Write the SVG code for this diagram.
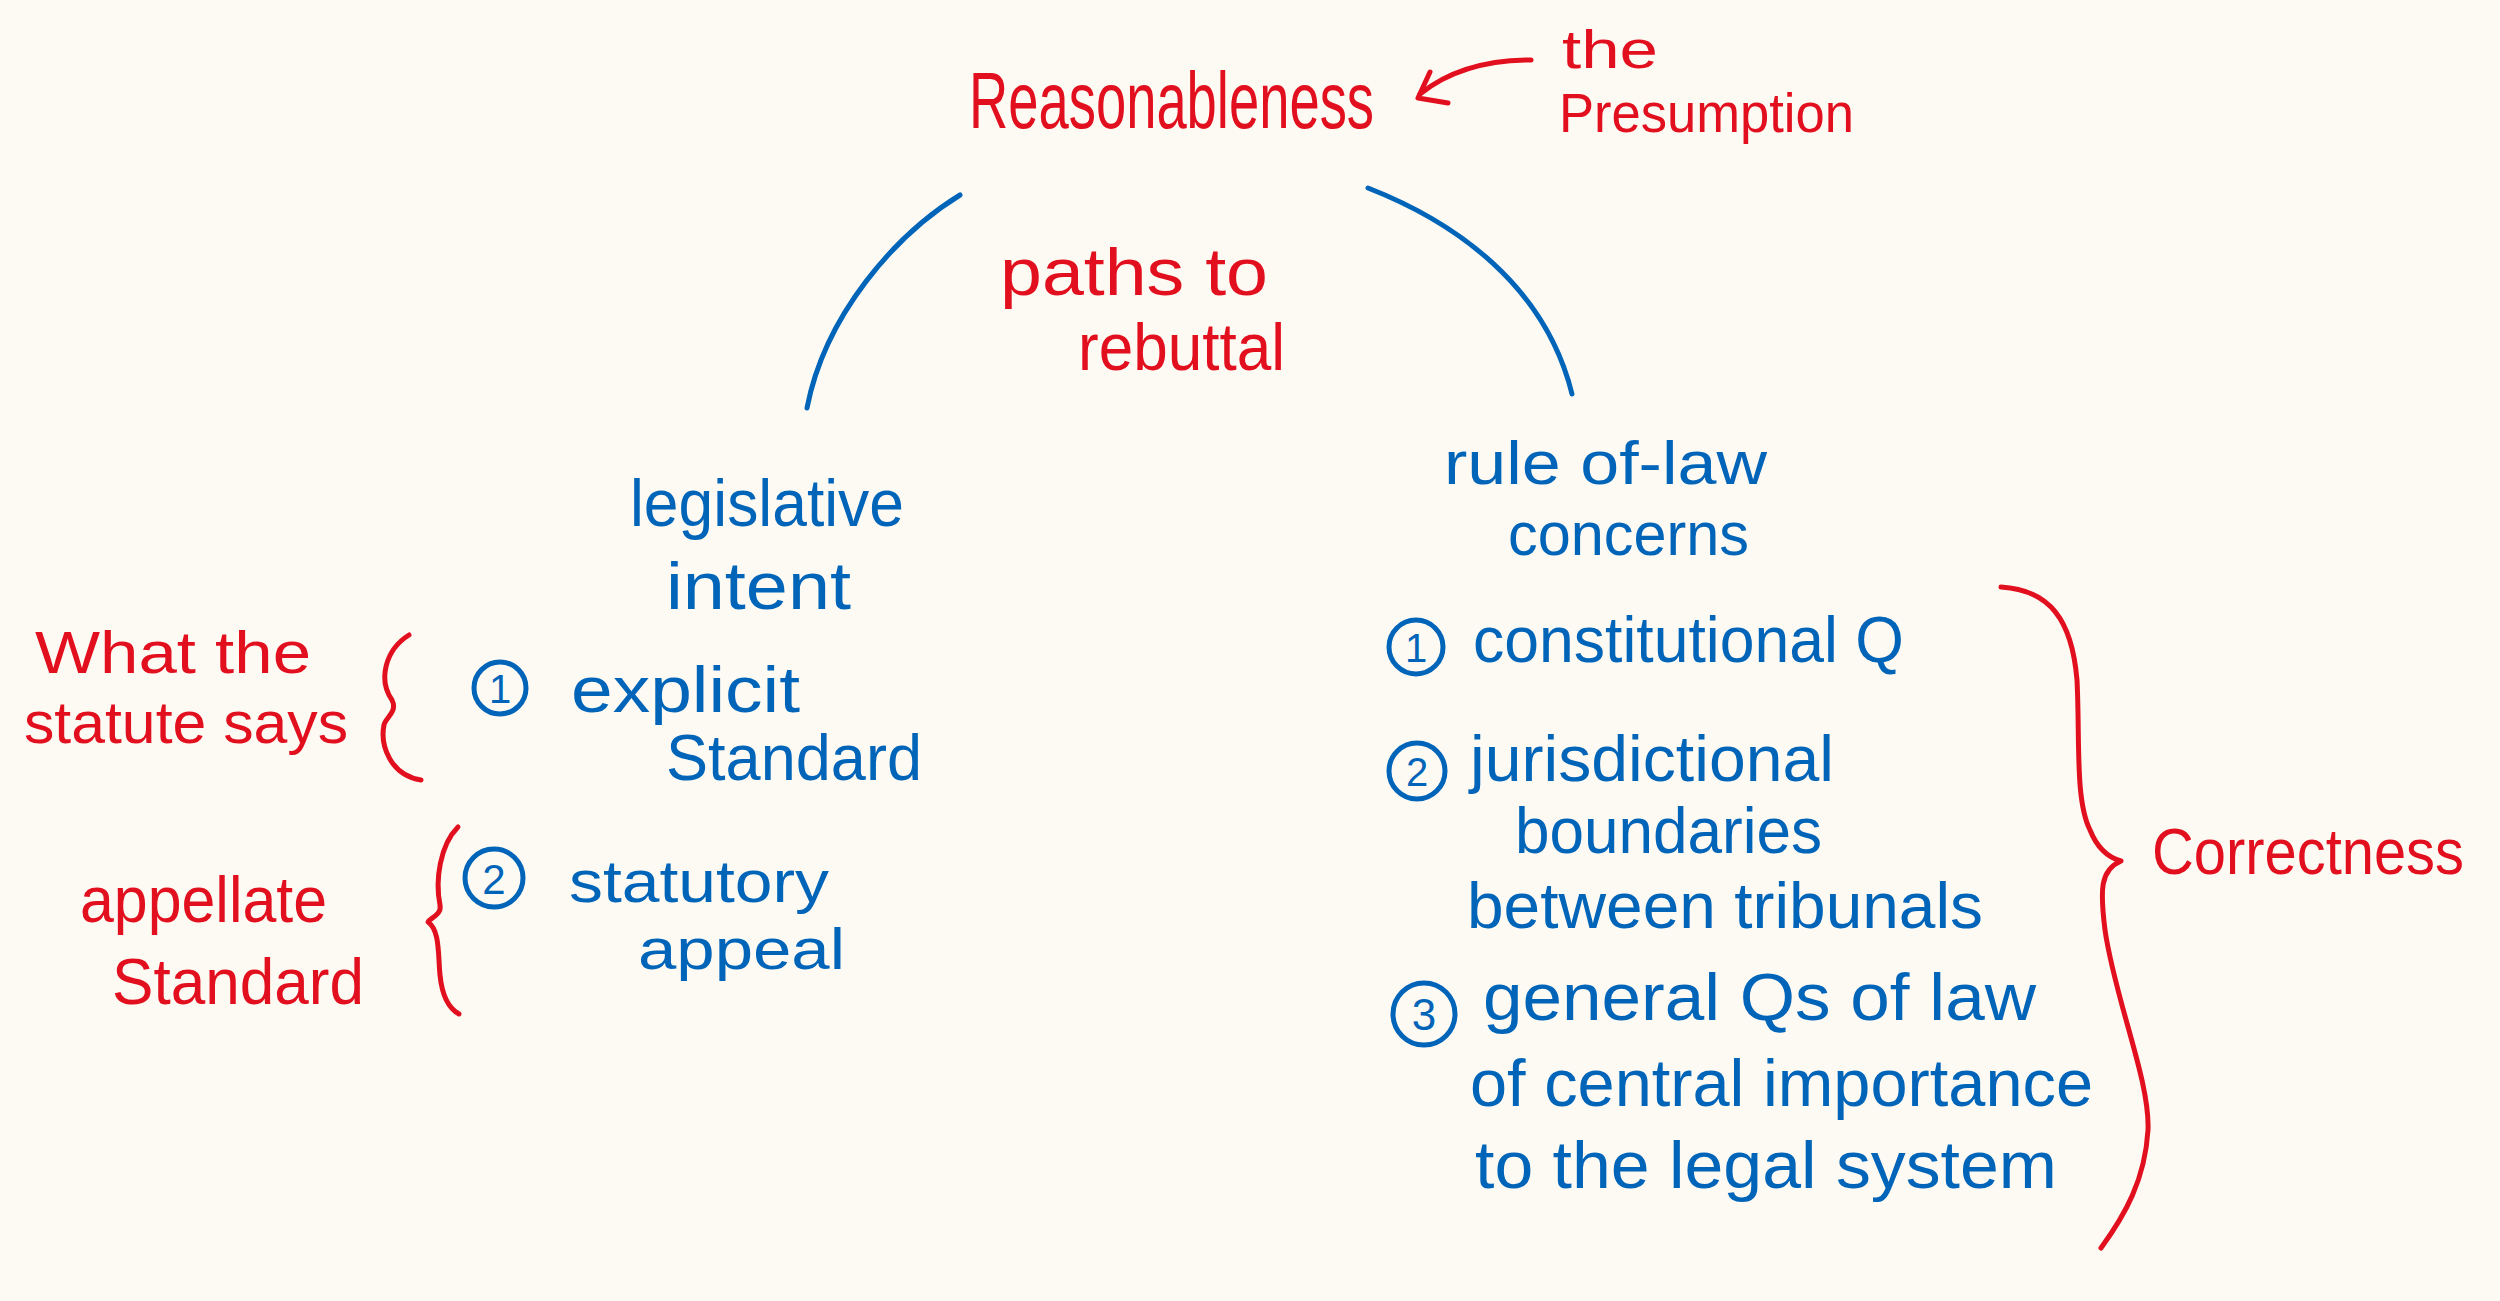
<svg xmlns="http://www.w3.org/2000/svg" width="2500" height="1301" viewBox="0 0 2500 1301">
<defs>
<style>
.r{fill:#E2101F;font-family:"Liberation Sans",Arial,sans-serif}
.b{fill:#0064B9;font-family:"Liberation Sans",Arial,sans-serif}
.rs{fill:none;stroke:#E2101F;stroke-width:5;stroke-linecap:round;stroke-linejoin:round}
.bs{fill:none;stroke:#0064B9;stroke-width:5;stroke-linecap:round;stroke-linejoin:round}
</style>
</defs>
<rect width="2500" height="1301" fill="#FDFAF3"/>

<g id="connectors">
<path class="bs" d="M960,195 C895,235 825,315 807,408"/>
<path class="bs" d="M1368,188 C1455,222 1545,285 1572,394"/>
<path class="rs" d="M1531,60 C1490,60 1450,70 1420,94"/>
<path class="rs" d="M1430,72 L1418,98 L1448,103"/>
</g>

<g id="reasonableness">
<text class="r" x="969" y="128" font-size="80" textLength="405" lengthAdjust="spacingAndGlyphs">Reasonableness</text>
</g>

<g id="presumption">
<text class="r" x="1562" y="68" font-size="54" textLength="96" lengthAdjust="spacingAndGlyphs">the</text>
<text class="r" x="1559" y="132" font-size="56" textLength="295" lengthAdjust="spacingAndGlyphs">Presumption</text>
</g>

<g id="paths-to-rebuttal">
<text class="r" x="1000" y="295" font-size="66" textLength="268" lengthAdjust="spacingAndGlyphs">paths to</text>
<text class="r" x="1078" y="370" font-size="66" textLength="207" lengthAdjust="spacingAndGlyphs">rebuttal</text>
</g>

<g id="legislative-intent">
<text class="b" x="630" y="526" font-size="66" textLength="274" lengthAdjust="spacingAndGlyphs">legislative</text>
<text class="b" x="666" y="609" font-size="66" textLength="185" lengthAdjust="spacingAndGlyphs">intent</text>
</g>

<g id="rule-of-law">
<text class="b" x="1444" y="484" font-size="62" textLength="323" lengthAdjust="spacingAndGlyphs">rule of-law</text>
<text class="b" x="1508" y="555" font-size="62" textLength="241" lengthAdjust="spacingAndGlyphs">concerns</text>
</g>

<g id="what-statute-says">
<text class="r" x="35" y="673" font-size="60" textLength="276" lengthAdjust="spacingAndGlyphs">What the</text>
<text class="r" x="24" y="743" font-size="60" textLength="324" lengthAdjust="spacingAndGlyphs">statute says</text>
<path class="rs" d="M409,635 C385,650 378,680 392,700 C398,712 385,718 384,725 C380,745 390,775 421,780"/>
</g>

<g id="explicit-standard">
<circle class="bs" cx="500" cy="688" r="26"/>
<text class="b" x="500" y="703" font-size="40" text-anchor="middle">1</text>
<text class="b" x="571" y="712" font-size="64" textLength="229" lengthAdjust="spacingAndGlyphs">explicit</text>
<text class="b" x="666" y="780" font-size="64" textLength="256" lengthAdjust="spacingAndGlyphs">Standard</text>
</g>

<g id="appellate-standard">
<text class="r" x="80" y="922" font-size="64" textLength="247" lengthAdjust="spacingAndGlyphs">appellate</text>
<text class="r" x="112" y="1004" font-size="64" textLength="252" lengthAdjust="spacingAndGlyphs">Standard</text>
<path class="rs" d="M458,827 C440,845 435,880 440,905 C442,915 430,918 428,922 C440,930 438,955 440,975 C442,995 448,1008 459,1014"/>
</g>

<g id="statutory-appeal">
<circle class="bs" cx="494" cy="878" r="29"/>
<text class="b" x="494" y="894" font-size="42" text-anchor="middle">2</text>
<text class="b" x="569" y="902" font-size="60" textLength="260" lengthAdjust="spacingAndGlyphs">statutory</text>
<text class="b" x="638" y="969" font-size="58" textLength="207" lengthAdjust="spacingAndGlyphs">appeal</text>
</g>

<g id="constitutional">
<circle class="bs" cx="1416" cy="647" r="27"/>
<text class="b" x="1416" y="662" font-size="40" text-anchor="middle">1</text>
<text class="b" x="1473" y="662" font-size="64" textLength="431" lengthAdjust="spacingAndGlyphs">constitutional Q</text>
</g>

<g id="jurisdictional">
<circle class="bs" cx="1417" cy="771" r="28"/>
<text class="b" x="1417" y="786" font-size="40" text-anchor="middle">2</text>
<text class="b" x="1470" y="781" font-size="64" textLength="364" lengthAdjust="spacingAndGlyphs">jurisdictional</text>
<text class="b" x="1515" y="853" font-size="64" textLength="307" lengthAdjust="spacingAndGlyphs">boundaries</text>
<text class="b" x="1467" y="928" font-size="64" textLength="516" lengthAdjust="spacingAndGlyphs">between tribunals</text>
</g>

<g id="general-qs">
<circle class="bs" cx="1424" cy="1014" r="31"/>
<text class="b" x="1424" y="1030" font-size="44" text-anchor="middle">3</text>
<text class="b" x="1483" y="1020" font-size="66" textLength="553" lengthAdjust="spacingAndGlyphs">general Qs of law</text>
<text class="b" x="1470" y="1106" font-size="66" textLength="623" lengthAdjust="spacingAndGlyphs">of central importance</text>
<text class="b" x="1475" y="1188" font-size="66" textLength="582" lengthAdjust="spacingAndGlyphs">to the legal system</text>
</g>

<g id="correctness">
<path class="rs" d="M2001,587 C2050,590 2072,620 2077,680 C2080,740 2075,800 2090,830 C2098,850 2110,858 2121,861 C2100,870 2100,890 2105,930 C2115,1000 2150,1080 2148,1130 C2145,1180 2125,1215 2101,1248"/>
<text class="r" x="2152" y="874" font-size="64" textLength="312" lengthAdjust="spacingAndGlyphs">Correctness</text>
</g>
</svg>
